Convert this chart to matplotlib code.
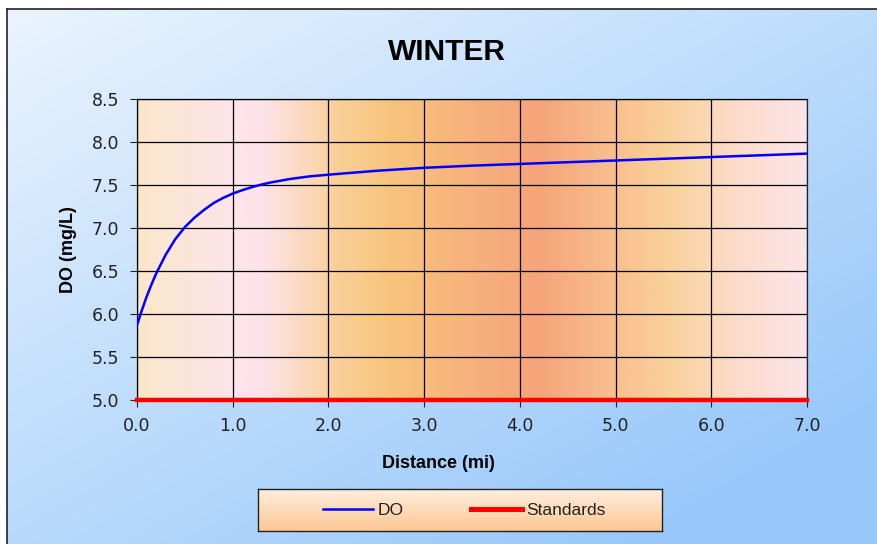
import numpy as np
import matplotlib.pyplot as plt
from matplotlib.colors import LinearSegmentedColormap, to_rgb
from matplotlib.lines import Line2D

plt.rcParams['font.family'] = ['Liberation Sans', 'DejaVu Sans']

# dissolved oxygen along the reach (winter run)
distance = [0.0, 0.05, 0.1, 0.15, 0.2, 0.3, 0.4, 0.5, 0.6, 0.7, 0.8, 0.9,
            1.0, 1.1, 1.2, 1.3, 1.4, 1.5, 1.6, 1.8, 2.0, 2.5, 3.0, 3.5, 4.0,
            4.5, 5.0, 5.5, 6.0, 6.5, 7.0]
do_mgl = [5.87, 6.04, 6.20, 6.34, 6.47, 6.69, 6.87, 7.01, 7.12, 7.21, 7.29,
          7.35, 7.40, 7.44, 7.475, 7.505, 7.53, 7.55, 7.57, 7.60, 7.62, 7.665,
          7.70, 7.725, 7.745, 7.765, 7.785, 7.805, 7.825, 7.845, 7.865]
std_x = [0.0, 7.0]
std_y = [5.0, 5.0]

xticks = np.arange(0, 7.01, 1.0)
yticks = np.arange(5.0, 8.51, 0.5)

W, H = 877, 544
fig = plt.figure(figsize=(W / 100, H / 100), dpi=100)
fig.patch.set_facecolor('white')

# outer chart area with a diagonal light-blue gradient
bg = fig.add_axes([7 / W, 0, 1 - 7 / W, 1 - 9 / H])
gx, gy = np.meshgrid(np.linspace(0, 1, 300), np.linspace(0, 1, 200))
t = np.clip(0.55 * gx + 0.6 * gy, 0, 1)
c0, c1 = np.array(to_rgb('#eaf4fe')), np.array(to_rgb('#98c8fa'))
img = c0[None, None, :] * (1 - t[..., None]) + c1[None, None, :] * t[..., None]
bg.imshow(img, aspect='auto', extent=[0, 1, 1, 0])
bg.set_xlim(0, 1)
bg.set_ylim(1, 0)
bg.set_xticks([])
bg.set_yticks([])
for s in ['right', 'bottom']:
    bg.spines[s].set_visible(False)
for s in ['left', 'top']:
    bg.spines[s].set_color('#222222')
    bg.spines[s].set_linewidth(1.2)

ax = fig.add_axes([137 / W, 1 - 400 / H, 670 / W, 301 / H])

band = LinearSegmentedColormap.from_list('band', [
    (0.00, '#fbe7ca'), (0.15, '#fde4ec'), (0.19, '#fde3e6'),
    (0.30, '#f9cf98'), (0.38, '#f8c47c'), (0.50, '#f7b17d'),
    (0.60, '#f6a47a'), (0.72, '#f9c090'), (0.80, '#f9d29c'),
    (0.90, '#fcdccb'), (1.00, '#fde4e8')])
ax.imshow(np.linspace(0, 1, 512)[None, :], cmap=band, aspect='auto',
          extent=[0, 7, 5, 8.5], zorder=0)

ax.plot(distance, do_mgl, color='#0000ff', lw=1.8, zorder=3,
        solid_joinstyle='round', solid_capstyle='round')
ax.plot(std_x, std_y, color='#ff0000', lw=3.2, zorder=4, clip_on=False)

ax.set_xlim(0, 7)
ax.set_ylim(5, 8.5)
ax.set_xticks(xticks)
ax.set_yticks(yticks)
ax.set_xticklabels([f'{v:.1f}' for v in xticks], family='DejaVu Sans')
ax.set_yticklabels([f'{v:.1f}' for v in yticks], family='DejaVu Sans')
ax.tick_params(labelsize=12.5, length=5, color='#222222', labelcolor='#222222')
ax.tick_params(axis='x', pad=7)
ax.tick_params(axis='y', pad=8)
ax.grid(True, color='black', lw=0.9)
ax.set_axisbelow(False)
for s in ax.spines.values():
    s.set_color('#222222')
    s.set_linewidth(0.9)

ax.set_xlabel('Distance (mi)', fontsize=13, fontweight='bold')
ax.xaxis.set_label_coords((438 - 137) / 670, -(463 - 400) / 301)
ax.xaxis.label.set_va('center')
ax.set_ylabel('DO (mg/L)', fontsize=13, fontweight='bold', labelpad=10)
fig.text(447 / W, 1 - 52 / H, 'WINTER', fontsize=21.5, fontweight='bold',
         ha='center', va='center')

# legend box with vertical peach gradient
lax = fig.add_axes([258 / W, 1 - 531 / H, 404 / W, 42 / H])
lc = LinearSegmentedColormap.from_list('leg', ['#ffeedf', '#fdc793'])
lax.imshow(np.linspace(0, 1, 100)[:, None], cmap=lc, aspect='auto',
           extent=[0, 1, 0, 1])
lax.set_xticks([])
lax.set_yticks([])
for s in lax.spines.values():
    s.set_color('#222222')
    s.set_linewidth(1.0)
handles = [Line2D([], [], color='#0000ff', lw=1.8),
           Line2D([], [], color='#ff0000', lw=3.6)]
lax.legend(handles, ['DO', 'Standards'], loc='center',
           bbox_to_anchor=(0.5 + 4 / 404, 0.5), ncol=2, frameon=False,
           fontsize=12.5, handlelength=2.9, handletextpad=0.25,
           columnspacing=3.9, labelcolor='#222222')

fig.savefig('out.png', dpi=100)
